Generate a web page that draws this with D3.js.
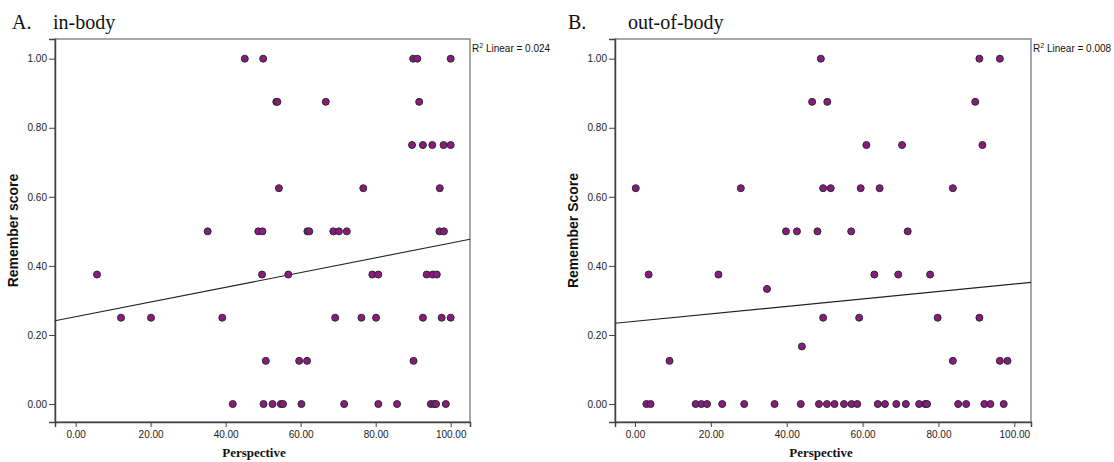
<!DOCTYPE html>
<html lang="en">
<head>
<meta charset="UTF-8" />
<title>Remember score vs Perspective</title>
<style>
    body, html {
        margin: 0;
        padding: 0;
        overflow: hidden;
        background: #fff;
    }
    svg {
        display: block;
    }
    .tick-label {
        font-family: "Liberation Sans", Arial, sans-serif;
        font-size: 10px;
        fill: #222;
    }
    .panel-title {
        font-family: "Liberation Serif", "Times New Roman", serif;
        font-size: 20px;
        fill: #111;
    }
</style>
</head>
<body>
<svg width="1114" height="462"></svg>

<script src="https://d3js.org/d3.v7.min.js"></script>
<script>
    // ---- data ----
    const xTicks = [0, 20, 40, 60, 80, 100];
    const yTicks = [0, 0.2, 0.4, 0.6, 0.8, 1.0];

    // [perspective, remember score]
    const inBodyPoints = [
        [45.1, 1], [50.0, 1], [90.0, 1], [91.1, 1], [100, 1],
        [53.5, 0.875], [53.8, 0.875], [66.7, 0.875], [91.6, 0.875],
        [89.7, 0.75], [92.6, 0.75], [95.1, 0.75], [98.1, 0.75], [100, 0.75],
        [54.2, 0.625], [76.7, 0.625], [97.1, 0.625],
        [35.2, 0.5], [48.7, 0.5], [49.8, 0.5], [61.8, 0.5], [62.3, 0.5],
        [68.7, 0.5], [70.2, 0.5], [72.3, 0.5], [97.0, 0.5], [98.2, 0.5],
        [5.7, 0.375], [49.7, 0.375], [56.7, 0.375], [79.1, 0.375], [80.7, 0.375],
        [93.6, 0.375], [95.2, 0.375], [96.3, 0.375],
        [12.1, 0.25], [20.1, 0.25], [39.1, 0.25], [69.2, 0.25], [76.2, 0.25],
        [80.1, 0.25], [92.6, 0.25], [97.6, 0.25], [100, 0.25],
        [50.7, 0.125], [59.6, 0.125], [61.7, 0.125], [90.1, 0.125],
        [41.9, 0], [50.1, 0], [52.5, 0], [54.7, 0], [55.3, 0], [60.2, 0], [71.6, 0],
        [80.7, 0], [85.7, 0], [94.7, 0], [95.6, 0], [96.1, 0], [98.7, 0]
    ];

    const outBodyPoints = [
        [49.0, 1], [90.8, 1], [96.2, 1],
        [46.7, 0.875], [50.7, 0.875], [89.7, 0.875],
        [61.0, 0.75], [70.4, 0.75], [91.6, 0.75],
        [0.2, 0.625], [27.9, 0.625], [49.6, 0.625], [51.6, 0.625], [59.5, 0.625],
        [64.5, 0.625], [83.8, 0.625],
        [39.8, 0.5], [42.7, 0.5], [48.1, 0.5], [57.0, 0.5], [71.9, 0.5],
        [3.6, 0.375], [22.0, 0.375], [63.1, 0.375], [69.4, 0.375], [77.8, 0.375],
        [34.8, 0.3333],
        [49.6, 0.25], [59.1, 0.25], [79.8, 0.25], [90.8, 0.25],
        [44.0, 0.1667],
        [9.1, 0.125], [83.8, 0.125], [96.2, 0.125], [98.2, 0.125],
        [3.0, 0], [4.1, 0], [16.0, 0], [17.5, 0], [19.0, 0], [23.0, 0], [28.8, 0],
        [36.8, 0], [43.7, 0], [48.5, 0], [50.6, 0], [52.6, 0], [55.1, 0], [57.1, 0],
        [58.6, 0], [64.0, 0], [65.9, 0], [68.9, 0], [71.4, 0], [74.9, 0], [76.5, 0],
        [77.0, 0], [85.2, 0], [87.3, 0], [92.1, 0], [93.7, 0], [97.2, 0]
    ];

    // linear fit: [intercept, slope]
    const inBodyFit = [0.2527, 0.002134];
    const outBodyFit = [0.2395, 0.001081];
    const rSquared = ["0.024", "0.008"];

    const panels = [
        {
            letter: "A.", name: "in-body", yTitle: "Remember score",
            points: inBodyPoints, fit: inBodyFit, r2: rSquared[0],
            left: 55, right: 470, xDomain: [-5.5, 105.15], letterX: 12, nameX: 53, xTitleX: 254
        },
        {
            letter: "B.", name: "out-of-body", yTitle: "Remember Score",
            points: outBodyPoints, fit: outBodyFit, r2: rSquared[1],
            left: 615, right: 1031, xDomain: [-5.27, 104.4], letterX: 568, nameX: 628, xTitleX: 821
        }
    ];

    const plotTop = 39, plotBottom = 422;
    const yDomain = [-0.052, 1.057];

    const svg = d3.select("svg");

    panels.forEach(drawPanel);

    function drawPanel(p) {
        const x = d3.scaleLinear().domain(p.xDomain).range([p.left, p.right]);
        const y = d3.scaleLinear().domain(yDomain).range([plotBottom, plotTop]);
        const g = svg.append("g");

        // title
        g.append("text").attr("class", "panel-title")
            .attr("x", p.letterX).attr("y", 29).text(p.letter);
        g.append("text").attr("class", "panel-title")
            .attr("x", p.nameX).attr("y", 29).text(p.name);

        // frame
        g.append("rect")
            .attr("x", p.left).attr("y", plotTop)
            .attr("width", p.right - p.left).attr("height", plotBottom - plotTop)
            .attr("fill", "none").attr("stroke", "#8a8a8a").attr("stroke-width", 1.5);

        // axes
        const yAxis = d3.axisLeft(y).tickValues(yTicks).tickSize(6).tickPadding(2)
            .tickFormat(d3.format(".2f"));
        const xAxis = d3.axisBottom(x).tickValues(xTicks).tickSize(5).tickPadding(4)
            .tickFormat(d3.format(".2f"));

        const ya = g.append("g").attr("transform", `translate(${p.left},0)`).call(yAxis);
        const xa = g.append("g").attr("transform", `translate(0,${plotBottom})`).call(xAxis);
        [ya, xa].forEach(a => {
            a.select(".domain").attr("stroke", "#444").attr("stroke-width", 1.5);
            a.selectAll(".tick line").attr("stroke", "#444").attr("stroke-width", 1);
            a.selectAll(".tick text").attr("class", "tick-label").attr("font-size", null).attr("font-family", null);
        });
        ya.attr("font-size", null).attr("font-family", null);
        xa.attr("font-size", null).attr("font-family", null);

        // axis titles
        g.append("text")
            .attr("transform", `translate(${p.left - 37},${(plotTop + plotBottom) / 2}) rotate(-90)`)
            .attr("text-anchor", "middle")
            .style("font-family", '"Liberation Sans", Arial, sans-serif')
            .style("font-weight", "bold")
            .style("font-size", "14px")
            .style("fill", "#111")
            .text(p.yTitle);

        g.append("text")
            .attr("x", p.xTitleX).attr("y", 457)
            .attr("text-anchor", "middle")
            .style("font-family", '"Liberation Serif", "Times New Roman", serif')
            .style("font-weight", "bold")
            .style("font-size", "13px")
            .style("fill", "#111")
            .text("Perspective");

        // fit line
        const [x0, x1] = p.xDomain;
        g.append("line")
            .attr("x1", x(x0)).attr("y1", y(p.fit[0] + p.fit[1] * x0))
            .attr("x2", x(x1)).attr("y2", y(p.fit[0] + p.fit[1] * x1))
            .attr("stroke", "#222").attr("stroke-width", 1.1);

        // points
        g.append("g")
            .selectAll("circle")
            .data(p.points)
            .join("circle")
            .attr("cx", d => x(d[0]))
            .attr("cy", d => y(d[1]))
            .attr("r", 3.5)
            .attr("fill", "#8b1a80")
            .attr("stroke", "#2b2b2b")
            .attr("stroke-width", 1);

        // R² label
        const r = g.append("text")
            .attr("x", p.right + 2).attr("y", 52)
            .style("font-family", '"Liberation Sans", Arial, sans-serif')
            .style("font-size", "10px")
            .style("fill", "#111");
        r.append("tspan").text("R");
        r.append("tspan").attr("dy", -4).style("font-size", "7px").text("2");
        r.append("tspan").attr("dy", 4).text(" Linear = " + p.r2);
    }
</script>
</body>
</html>
